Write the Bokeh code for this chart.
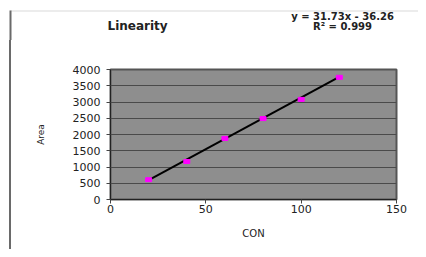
from bokeh.plotting import figure
from bokeh.models import Label, FixedTicker, Range1d, Div
from bokeh.layouts import column, row
from bokeh.embed import file_html
from bokeh.resources import INLINE

# data
con = [20, 40, 60, 80, 100, 120]
area = [610, 1170, 1880, 2490, 3080, 3760]
slope = 31.73
intercept = -36.26
r_squared = 0.999
title_text = "Linearity"
x_ticks = [0, 50, 100, 150]
y_ticks = [0, 500, 1000, 1500, 2000, 2500, 3000, 3500, 4000]

FONT = "DejaVu Sans"
TOTAL_W, TOTAL_H, HEAD_H, STRIP_W = 418, 249, 40, 12

# header with title and trendline equation
head = figure(width=TOTAL_W, height=HEAD_H, x_range=Range1d(0, TOTAL_W), y_range=Range1d(HEAD_H, 0),
              x_axis_type=None, y_axis_type=None,
              min_border_left=0, min_border_right=0, min_border_top=0, min_border_bottom=0,
              output_backend="svg", toolbar_location=None)
head.outline_line_color = None
head.background_fill_color = "white"
head.border_fill_color = "white"
head.xgrid.visible = False
head.ygrid.visible = False
head.segment(x0=[10], y0=[10.5], x1=[TOTAL_W], y1=[10.5], line_color="#d9d9d9", line_width=1)
head.segment(x0=[10], y0=[10], x1=[10], y1=[HEAD_H], line_color="#6a6a6a", line_width=2)
head.add_layout(Label(x=107, y=25, text=title_text,
                      text_font=FONT, text_font_style="bold", text_font_size="12px",
                      text_color="#222222", text_baseline="middle", text_align="left"))
head.add_layout(Label(x=342, y=15.5, text=f"y = {slope}x - {abs(intercept)}",
                      text_font=FONT, text_font_style="bold", text_font_size="10px",
                      text_color="#222222", text_baseline="middle", text_align="center"))
head.add_layout(Label(x=342, y=25.5, text=f"R² = {r_squared}",
                      text_font=FONT, text_font_style="bold", text_font_size="10px",
                      text_color="#222222", text_baseline="middle", text_align="center"))

# left strip with the sheet border
strip = Div(width=STRIP_W, height=TOTAL_H - HEAD_H, margin=0,
            text='<div style="position:absolute;left:9px;top:0;width:2px;'
                 f'height:{TOTAL_H - HEAD_H}px;background:#6a6a6a"></div>')

# main chart
p = figure(frame_width=286, frame_height=130,
           min_border_left=110 - STRIP_W, min_border_right=22,
           min_border_top=69 - HEAD_H, min_border_bottom=50,
           x_range=Range1d(0, 150), y_range=Range1d(0, 4000),
           output_backend="svg", toolbar_location=None)

p.background_fill_color = "#8e8e8e"
p.border_fill_color = "white"
p.outline_line_color = "#555555"
p.outline_line_width = 2

p.xgrid.visible = False
p.ygrid.ticker = FixedTicker(ticks=y_ticks)
p.ygrid.grid_line_color = "#4a4a4a"
p.ygrid.grid_line_width = 1

p.xaxis.ticker = FixedTicker(ticks=x_ticks)
p.yaxis.ticker = FixedTicker(ticks=y_ticks)
for ax in (p.xaxis[0], p.yaxis[0]):
    ax.axis_line_color = "#222222"
    ax.major_tick_line_color = "#444444"
    ax.major_tick_out = 4
    ax.major_tick_in = 0
    ax.minor_tick_line_color = None
    ax.major_label_text_font = FONT
    ax.major_label_text_font_size = "11px"
    ax.major_label_text_color = "#222222"
    ax.axis_label_text_font = FONT
    ax.axis_label_text_font_style = "normal"
    ax.axis_label_text_color = "#222222"

p.yaxis.axis_label = "Area"
p.yaxis.axis_label_text_font_size = "9px"
p.yaxis.axis_label_standoff = 24
p.yaxis.major_label_standoff = 6
p.xaxis.axis_label = "CON"
p.xaxis.axis_label_text_font_size = "10px"
p.xaxis.axis_label_standoff = 12
p.xaxis.major_label_standoff = 1

# trendline from fit
tx = [min(con), max(con)]
ty = [slope * v + intercept for v in tx]
p.line(tx, ty, line_color="black", line_width=2)

p.rect(con, area, width=6, height=4, width_units="screen", height_units="screen",
       fill_color="#ff00ff", line_color="#ff00ff")

layout = column(head, row(strip, p))
open("out.html", "w").write(file_html(layout, INLINE))
